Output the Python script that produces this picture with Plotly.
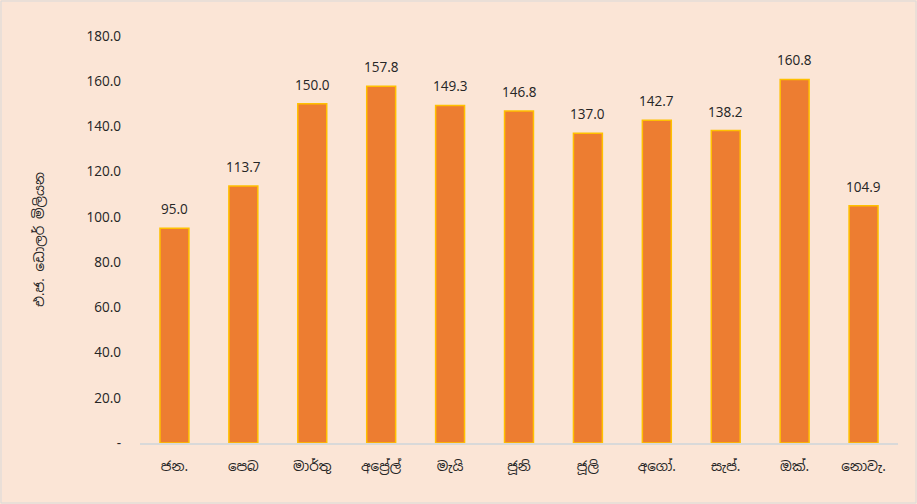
import plotly.graph_objects as go

months = ["ජන.", "පෙබ", "මාර්තු", "අප්‍රේල්", "මැයි", "ජූනි", "ජූලි", "අගෝ.", "සැප්.", "ඔක්.", "නොවැ."]
values = [95.0, 113.7, 150.0, 157.8, 149.3, 146.8, 137.0, 142.7, 138.2, 160.8, 104.9]
tick_vals = [0, 20, 40, 60, 80, 100, 120, 140, 160, 180]
tick_text = ["-", "20.0", "40.0", "60.0", "80.0", "100.0", "120.0", "140.0", "160.0", "180.0"]
y_title = "එ.ජ. ඩොලර් මිලියන"

bg = "#FBE5D6"
font_family = "Noto Sans Sinhala, Noto Sans, Iskoola Pota, sans-serif"

fig = go.Figure(go.Bar(
    x=months, y=values,
    marker=dict(color="#ED7D31", line=dict(color="#FFC000", width=1.5)),
    width=0.42,
    hoverinfo="x+y",
))

for m, v in zip(months, values):
    fig.add_annotation(x=m, y=v, text=f"{v:.1f}", showarrow=False,
                       yanchor="bottom", yshift=8,
                       font=dict(size=13.5, color="#262626"))

fig.update_layout(
    width=917, height=504,
    paper_bgcolor=bg, plot_bgcolor=bg,
    margin=dict(l=140, r=19, t=36, b=61),
    font=dict(family=font_family, size=13, color="#262626"),
    showlegend=False,
    xaxis=dict(
        showline=True, linecolor="#D9D9D9", linewidth=1.5,
        showgrid=False, ticks="", tickfont=dict(size=13.5),
        ticklabelstandoff=10, automargin=False,
    ),
    yaxis=dict(
        range=[0, 180], tickvals=tick_vals, ticktext=tick_text,
        showgrid=False, zeroline=False, showline=False, ticks="",
        ticklabelstandoff=18, automargin=False,
        tickfont=dict(size=13.5),
        title=dict(text=y_title, font=dict(size=13.5), standoff=38),
    ),
    shapes=[dict(type="rect", xref="paper", yref="paper", x0=-139/758, x1=1+18/758, y0=-60/407, y1=1+35/407,
                 line=dict(color="#D9D9D9", width=1), fillcolor="rgba(0,0,0,0)")],
)

fig.write_html("out.html", config={"displayModeBar": False},
               post_script="document.body.style.margin='0';document.body.style.background='#FBE5D6';")
